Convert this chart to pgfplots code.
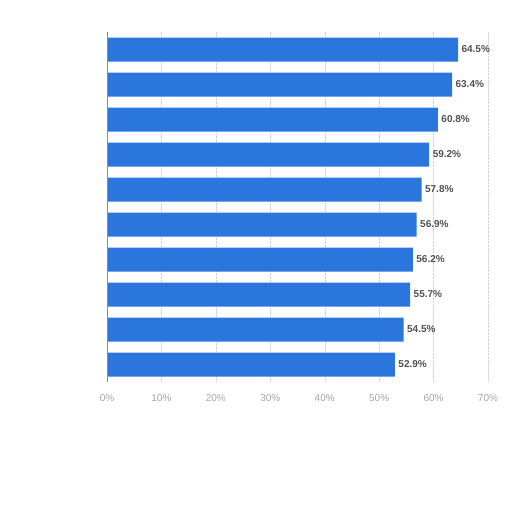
\documentclass[border=0pt]{standalone}
\usepackage{fontspec}
\setmainfont{Liberation Sans}
\usepackage{pgfplots}
\pgfplotsset{compat=1.18}
\definecolor{barblue}{RGB}{42,118,221}
\definecolor{ticktext}{RGB}{165,165,165}
\definecolor{valtext}{RGB}{80,80,80}
\begin{document}
\begin{tikzpicture}[x=1pt,y=1pt]
\useasboundingbox (0,0) rectangle (512,512);
\begin{axis}[
  at={(107pt,130pt)}, anchor=south west,
  scale only axis, width=381pt, height=350pt,
  xbar, bar width=24pt,
  xmin=0, xmax=70, ymin=0.5, ymax=10.5, y dir=reverse,
  xtick={0,10,...,70},
  xticklabel={\pgfmathprintnumber{\tick}\%},
  ytick=\empty,
  axis line style={draw=none},
  xmajorgrids, grid style={densely dotted, black!18},
  major tick length=0pt,
  /pgf/number format/assume math mode=true,
  xticklabel style={font=\fontsize{10}{11}\selectfont, text=ticktext, yshift=-9pt},
  point meta=x,
  nodes near coords={\pgfmathprintnumber[fixed,precision=1,fixed zerofill]{\pgfplotspointmeta}\%},
  nodes near coords style={font=\bfseries\fontsize{10}{11}\selectfont, text=valtext, anchor=west},
  clip=false,
]
\addplot[fill=barblue, draw=none] coordinates {
  (64.5,1) (63.4,2) (60.8,3) (59.2,4) (57.8,5)
  (56.9,6) (56.2,7) (55.7,8) (54.5,9) (52.9,10)
};
\draw[black!45, line width=1pt] (axis cs:0,0.5) -- (axis cs:0,10.5);
\end{axis}
\end{tikzpicture}
\end{document}
